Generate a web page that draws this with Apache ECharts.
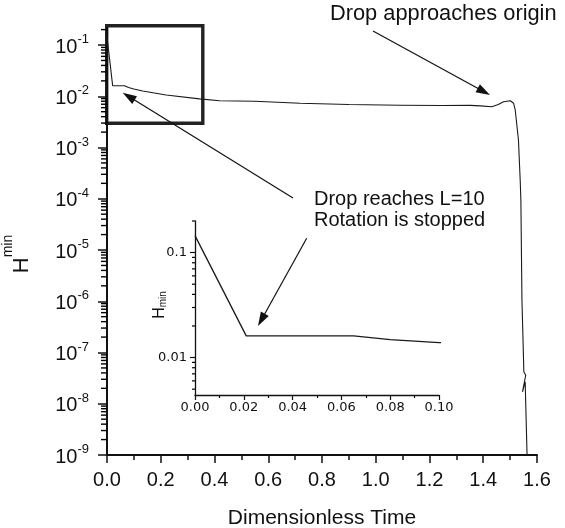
<!DOCTYPE html>
<html><head><meta charset="utf-8">
<script src="https://cdn.jsdelivr.net/npm/echarts@6/dist/echarts.min.js"></script>
<style>html,body{margin:0;padding:0;background:#fff}#c{width:565px;height:528px}</style>
</head><body><div id="c"></div>
<script>
// ---- data ----
const time = [0, 0.021, 0.065, 0.08, 0.10, 0.133, 0.22, 0.344, 0.419, 0.55, 0.718, 0.90, 1.09, 1.25, 1.351, 1.389, 1.432, 1.456, 1.4755, 1.5006, 1.513, 1.519, 1.531, 1.5375, 1.540, 1.544, 1.549, 1.551, 1.558, 1.546, 1.556, 1.563];
const hmin = [0.145, 0.0161, 0.0161, 0.0148, 0.0139, 0.0127, 0.0106, 0.0089, 0.0082, 0.0080, 0.0073, 0.0069, 0.0067, 0.0066, 0.00665, 0.0065, 0.00625, 0.0069, 0.0078, 0.0082, 0.0073, 0.0054, 0.0014, 0.00023, 0.000095, 0.00000105, 1.1e-7, 4.2e-8, 3.6e-8, 1.7e-8, 2.7e-8, 1e-9];

const mainXTickLabels = ['0.0','0.2','0.4','0.6','0.8','1.0','1.2','1.4','1.6'];
const mainYDecades = [1e-9, 1e-8, 1e-7, 1e-6, 1e-5, 1e-4, 1e-3, 1e-2, 1e-1];
const insetXTickLabels = ['0.00','0.02','0.04','0.06','0.08','0.10'];
const insetYMajor = [0.01, 0.1];
const insetYMinor = [0.005, 0.006, 0.007, 0.008, 0.009, 0.02, 0.03, 0.04, 0.05, 0.06, 0.07, 0.08, 0.09, 0.2];

const MAIN_YMAX = 0.215;
const mainYMinor = [];
mainYDecades.forEach(d => { for (let m = 2; m <= 9; m++) { const v = Number((m * d).toPrecision(3)); if (v <= MAIN_YMAX) mainYMinor.push(v); } });

const FONT = '"Liberation Sans", Arial, Helvetica, sans-serif';
const INK = '#111';
const pts = time.map((t, i) => [t, hmin[i]]);

function arrow(x1, y1, x2, y2, len, half) {
  const dx = x2 - x1, dy = y2 - y1, d = Math.hypot(dx, dy), ux = dx / d, uy = dy / d;
  const bx = x2 - ux * len, by = y2 - uy * len;
  return [
    {type: 'line', silent: true, shape: {x1: x1, y1: y1, x2: bx + ux * 2, y2: by + uy * 2}, style: {stroke: INK, lineWidth: 1.2}},
    {type: 'polygon', silent: true, shape: {points: [[x2, y2], [bx - uy * half, by + ux * half], [bx + uy * half, by - ux * half]]}, style: {fill: INK}}
  ];
}

const chart = echarts.init(document.getElementById('c'), null, {renderer: 'canvas', width: 565, height: 528});

const baseGraphic = [
  {type: 'rect', silent: true, shape: {x: 106.7, y: 25.7, width: 96.1, height: 97.6}, style: {fill: 'none', stroke: '#222', lineWidth: 3.4}},
  ...arrow(373, 31, 490, 95, 14, 4.5),
  ...arrow(293, 198, 122.7, 92.7, 14, 4.5),
  ...arrow(306.7, 238.3, 258, 326, 14, 4.5),
  {type: 'text', silent: true, x: 330, y: 14, style: {text: 'Drop approaches origin', fontSize: 21.8, fontFamily: FONT, fill: INK, align: 'left', verticalAlign: 'middle'}},
  {type: 'text', silent: true, x: 314, y: 199, style: {text: 'Drop reaches L=10', fontSize: 20, fontFamily: FONT, fill: INK, align: 'left', verticalAlign: 'middle'}},
  {type: 'text', silent: true, x: 314, y: 220, style: {text: 'Rotation is stopped', fontSize: 20, fontFamily: FONT, fill: INK, align: 'left', verticalAlign: 'middle'}},
  {type: 'text', silent: true, x: 17, y: 254, rotation: Math.PI / 2,
    style: {text: '{h|H}{m|min}', align: 'center', verticalAlign: 'middle',
      rich: {h: {fontSize: 22, fontFamily: FONT, fill: INK, padding: [10, 0, 0, 0]},
             m: {fontSize: 14, fontFamily: FONT, fill: INK, verticalAlign: 'top'}}}},
  {type: 'text', silent: true, x: 160, y: 305, rotation: Math.PI / 2,
    style: {text: '{h|H}{m|min}', align: 'center', verticalAlign: 'middle',
      rich: {h: {fontSize: 16, fontFamily: FONT, fill: INK},
             m: {fontSize: 10, fontFamily: FONT, fill: INK, verticalAlign: 'bottom'}}}}
];

const option = {
  animation: false,
  backgroundColor: '#fff',
  grid: [
    {left: 107, right: 28, top: 28, bottom: 73, outerBoundsMode: 'none', containLabel: false},
    {left: 195, right: 126, top: 221, bottom: 133, outerBoundsMode: 'none', containLabel: false}
  ],
  xAxis: [
    {
      gridIndex: 0, type: 'value', min: 0, max: 1.6, interval: 0.2,
      axisLine: {show: true, onZero: false, lineStyle: {color: INK, width: 2}},
      axisTick: {show: true, length: 8, lineStyle: {color: INK, width: 1.5}},
      minorTick: {show: true, splitNumber: 2, length: 5, lineStyle: {color: INK, width: 1.5}},
      splitLine: {show: false}, minorSplitLine: {show: false},
      axisLabel: {fontSize: 20, fontFamily: FONT, color: INK, margin: 15,
        formatter: v => mainXTickLabels[Math.round(v / 0.2)]},
      name: 'Dimensionless Time', nameLocation: 'middle', nameGap: 53,
      nameTextStyle: {fontSize: 21, fontFamily: FONT, color: INK}
    },
    {
      gridIndex: 1, type: 'value', min: 0, max: 0.1, interval: 0.02,
      axisLine: {show: true, onZero: false, lineStyle: {color: INK, width: 1.3}},
      axisTick: {show: true, length: 5, lineStyle: {color: INK, width: 1.2}},
      minorTick: {show: true, splitNumber: 2, length: 3, lineStyle: {color: INK, width: 1.2}},
      splitLine: {show: false},
      axisLabel: {fontSize: 13, fontFamily: '"DejaVu Sans", sans-serif', color: INK, margin: 6,
        formatter: v => insetXTickLabels[Math.round(v / 0.02)]}
    }
  ],
  yAxis: [
    {
      gridIndex: 0, type: 'log', logBase: 10, min: 1e-9, max: MAIN_YMAX,
      axisLine: {show: true, onZero: false, lineStyle: {color: INK, width: 2}},
      axisTick: {show: true, length: 9, customValues: mainYDecades, lineStyle: {color: INK, width: 1.5}},
      splitLine: {show: false},
      axisLabel: {
        customValues: mainYDecades, margin: 18,
        formatter: v => '{b|10}{s|' + Math.round(Math.log10(v)) + '}',
        rich: {
          b: {fontSize: 20, fontFamily: FONT, color: INK, padding: [4, 0, 0, 0]},
          s: {fontSize: 13, fontFamily: FONT, color: INK, verticalAlign: 'top'}
        }
      }
    },
    {
      gridIndex: 1, type: 'log', logBase: 10, min: 0.0044, max: 0.2,
      axisLine: {show: true, onZero: false, lineStyle: {color: INK, width: 1.3}},
      axisTick: {show: true, length: 5, customValues: insetYMajor, lineStyle: {color: INK, width: 1.2}},
      splitLine: {show: false},
      axisLabel: {customValues: insetYMajor, margin: 8, fontSize: 13, fontFamily: '"DejaVu Sans", sans-serif', color: INK,
        formatter: v => String(v)}
    }
  ],
  series: [
    {type: 'line', xAxisIndex: 0, yAxisIndex: 0, data: pts, showSymbol: false, clip: true,
      lineStyle: {color: '#1a1a1a', width: 1.1}},
    {type: 'line', xAxisIndex: 1, yAxisIndex: 1, data: pts, showSymbol: false, clip: true,
      lineStyle: {color: '#1a1a1a', width: 1.3}}
  ],
  graphic: baseGraphic
};
chart.setOption(option);

// minor log ticks: positions come from the axes' own scales, added straight to the renderer
const zr = chart.getZr();
function addMinorTicks(gridIdx, values, len, width) {
  values.forEach(v => {
    const p = chart.convertToPixel({xAxisIndex: gridIdx, yAxisIndex: gridIdx}, [0, v]);
    if (p && isFinite(p[0]) && isFinite(p[1])) {
      zr.add(new echarts.graphic.Line({
        silent: true, z: 100, zlevel: 0,
        shape: {x1: p[0] - len, y1: p[1], x2: p[0], y2: p[1]},
        style: {stroke: '#000', lineWidth: width}
      }));
    }
  });
}
addMinorTicks(0, mainYMinor, 6, 1.4);
addMinorTicks(1, insetYMinor, 3, 1.2);
</script>
</body></html>
